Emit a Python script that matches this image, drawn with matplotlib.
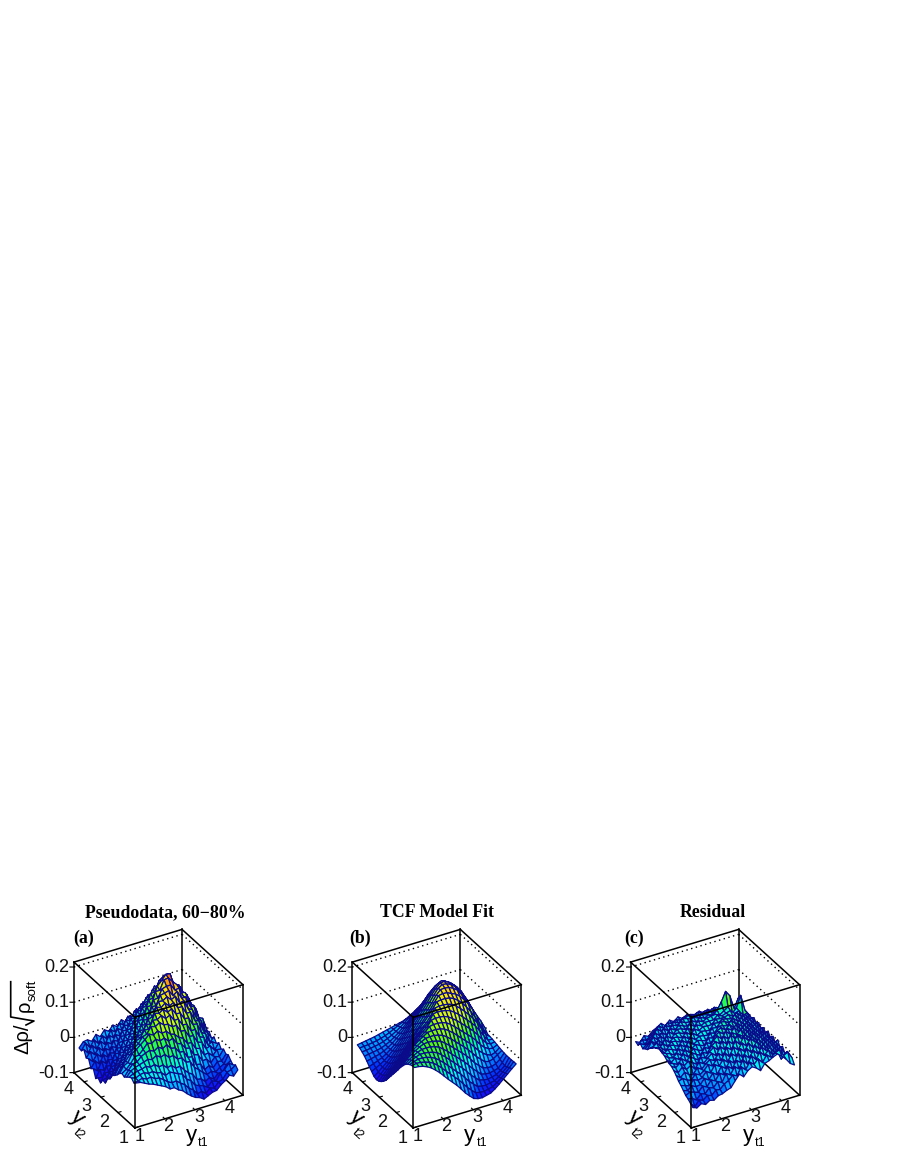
import numpy as np
import matplotlib
matplotlib.use("Agg")
import matplotlib.pyplot as plt
from matplotlib.colors import LinearSegmentedColormap, Normalize
from matplotlib.lines import Line2D

# surface heights, in units of 0.001, one row per y_t2 bin
pseudodata = [
    [20, 18, 12, 6, 2, -4, -10, -16, -26, -26, -36, -42, -54, -64, -72, -76, -84, -78, -72, -70, -58, -50, -38, -44, -30],
    [14, 16, 20, 14, 16, 8, 6, -2, -12, -18, -16, -26, -34, -48, -56, -72, -68, -78, -66, -70, -56, -52, -36, -32, -22],
    [22, 18, 24, 26, 20, 22, 14, 12, 0, 6, 0, -6, -10, -28, -36, -52, -58, -62, -70, -56, -60, -40, -34, -20, -28],
    [18, 24, 28, 30, 34, 28, 32, 22, 24, 12, 16, 4, 6, -8, -20, -28, -46, -48, -60, -52, -60, -48, -50, -30, -22],
    [12, 26, 32, 36, 40, 44, 40, 48, 40, 44, 32, 34, 20, 20, 4, 2, -18, -28, -40, -50, -44, -50, -40, -34, -12],
    [6, 22, 36, 38, 50, 56, 60, 54, 62, 54, 62, 48, 46, 30, 28, 8, 6, -20, -22, -42, -34, -44, -30, -32, -16],
    [10, 18, 30, 46, 48, 60, 74, 70, 78, 70, 74, 62, 66, 48, 44, 28, 24, 2, -2, -22, -22, -36, -22, -26, -8],
    [4, 22, 28, 50, 58, 68, 78, 90, 84, 92, 82, 84, 72, 68, 56, 50, 32, 30, 10, 6, -16, -14, -26, -12, -14],
    [-6, 12, 26, 40, 56, 64, 80, 84, 102, 98, 106, 96, 94, 84, 84, 64, 62, 42, 40, 18, 14, -8, -4, -20, -2],
    [-14, 8, 14, 36, 44, 66, 70, 90, 88, 110, 108, 116, 104, 110, 92, 92, 72, 70, 48, 48, 24, 18, -8, -2, -10],
    [-20, -10, 12, 18, 42, 48, 70, 72, 96, 92, 120, 116, 124, 112, 118, 100, 100, 80, 78, 56, 54, 26, 18, -10, 2],
    [-36, -14, -8, 16, 20, 46, 50, 76, 74, 100, 104, 128, 122, 132, 120, 126, 108, 108, 86, 84, 58, 52, 22, 12, -8],
    [-42, -36, -10, -6, 20, 26, 52, 54, 82, 78, 108, 112, 134, 132, 140, 128, 134, 112, 114, 88, 82, 54, 44, 10, 4],
    [-60, -34, -32, -4, -2, 26, 28, 58, 56, 86, 84, 116, 116, 142, 144, 148, 130, 138, 116, 114, 86, 80, 46, 40, 2],
    [-58, -54, -28, -26, 4, 4, 34, 34, 64, 62, 94, 94, 126, 128, 150, 154, 154, 136, 138, 110, 104, 70, 64, 24, 16],
    [-72, -48, -48, -20, -20, 10, 10, 40, 40, 72, 72, 104, 104, 140, 140, 166, 168, 154, 142, 116, 112, 78, 68, 28, 20],
    [-64, -66, -38, -40, -10, -12, 18, 18, 46, 50, 80, 82, 114, 116, 146, 158, 172, 170, 130, 132, 102, 96, 58, 48, 6],
    [-72, -50, -56, -30, -32, -4, -6, 24, 26, 54, 58, 88, 92, 122, 124, 152, 160, 164, 144, 118, 116, 82, 76, 36, 26],
    [-50, -60, -36, -46, -20, -24, 2, 2, 30, 32, 60, 64, 92, 96, 124, 124, 144, 140, 136, 124, 98, 96, 60, 54, 14],
    [-56, -38, -50, -28, -38, -12, -18, 10, 8, 36, 38, 66, 68, 98, 98, 124, 114, 132, 116, 116, 90, 88, 58, 54, 16],
    [-34, -46, -28, -40, -20, -28, -4, -10, 16, 14, 42, 42, 68, 68, 96, 90, 114, 100, 112, 90, 94, 68, 68, 36, 34],
    [-38, -24, -36, -20, -32, -12, -20, 2, -4, 22, 18, 44, 40, 68, 62, 88, 78, 98, 80, 90, 72, 72, 46, 48, 18],
    [-20, -34, -16, -30, -12, -24, -2, -12, 10, 2, 28, 20, 46, 40, 64, 54, 74, 62, 76, 58, 66, 48, 52, 30, 32],
    [-30, -12, -28, -10, -24, -6, -18, 4, -6, 16, 6, 28, 20, 42, 30, 46, 36, 52, 38, 52, 36, 46, 30, 38, 14],
    [-28, -14, -12, -20, -4, -14, 2, -6, 8, 0, 16, 6, 20, 12, 26, 16, 28, 18, 26, 16, 24, 14, 22, 12, 20],
]
model_fit = [
    [64, 63, 60, 55, 48, 38, 27, 14, 1, -11, -23, -37, -52, -64, -75, -79, -80, -77, -74, -66, -56, -45, -34, -23, -13],
    [63, 66, 65, 62, 58, 52, 42, 31, 19, 7, -5, -17, -31, -45, -57, -68, -71, -72, -69, -66, -58, -49, -38, -26, -13],
    [60, 65, 68, 68, 66, 62, 56, 47, 37, 25, 13, 1, -10, -24, -38, -49, -60, -63, -64, -61, -59, -51, -41, -30, -14],
    [55, 62, 68, 72, 72, 70, 67, 62, 53, 43, 31, 20, 8, -3, -16, -30, -41, -52, -55, -57, -54, -51, -43, -33, -14],
    [48, 58, 66, 72, 76, 77, 76, 73, 68, 59, 50, 38, 27, 16, 5, -8, -22, -33, -45, -48, -49, -46, -43, -30, -14],
    [38, 52, 62, 70, 77, 82, 83, 82, 79, 75, 66, 57, 46, 35, 24, 13, 0, -15, -26, -37, -40, -41, -36, -27, -13],
    [27, 42, 54, 66, 74, 82, 88, 89, 89, 86, 82, 74, 65, 54, 43, 32, 20, 7, -7, -18, -29, -32, -28, -20, -12],
    [14, 30, 44, 58, 70, 80, 87, 95, 96, 96, 94, 90, 82, 73, 62, 50, 39, 28, 15, 1, -10, -19, -24, -20, -10],
    [2, 18, 32, 47, 60, 72, 82, 90, 102, 104, 104, 102, 98, 90, 80, 69, 58, 47, 36, 23, 8, -4, -12, -14, -8],
    [-10, 6, 20, 35, 50, 63, 75, 85, 94, 110, 112, 112, 110, 105, 97, 88, 77, 66, 55, 43, 29, 13, -2, -8, -6],
    [-22, -6, 8, 23, 38, 52, 65, 77, 88, 98, 118, 120, 119, 117, 113, 105, 96, 85, 73, 61, 48, 31, 12, -4, -4],
    [-34, -18, -4, 11, 26, 41, 55, 68, 80, 91, 106, 125, 127, 127, 125, 121, 113, 103, 91, 78, 63, 47, 26, 6, -3],
    [-46, -30, -15, 0, 15, 30, 45, 60, 73, 86, 100, 116, 133, 135, 135, 133, 128, 119, 108, 93, 77, 58, 37, 15, -2],
    [-55, -40, -25, -10, 5, 20, 35, 50, 64, 78, 92, 108, 125, 141, 143, 142, 136, 131, 121, 108, 92, 73, 52, 32, 8],
    [-62, -48, -34, -19, -4, 11, 26, 41, 56, 71, 86, 102, 118, 136, 148, 149, 147, 141, 132, 116, 97, 77, 55, 30, 10],
    [-67, -54, -41, -27, -12, 3, 18, 33, 48, 64, 80, 96, 113, 130, 145, 153, 151, 146, 136, 122, 105, 85, 60, 35, 12],
    [-69, -57, -45, -33, -19, -5, 10, 25, 40, 56, 72, 89, 106, 124, 138, 150, 152, 146, 136, 125, 110, 88, 65, 39, 13],
    [-66, -57, -47, -37, -25, -12, 2, 17, 32, 48, 64, 81, 98, 115, 130, 142, 148, 142, 135, 124, 108, 90, 67, 43, 17],
    [-58, -52, -45, -38, -28, -17, -5, 9, 23, 38, 54, 70, 86, 102, 118, 130, 136, 138, 130, 118, 104, 87, 68, 45, 21],
    [-50, -46, -41, -36, -29, -20, -10, 2, 15, 29, 44, 59, 74, 90, 105, 116, 122, 124, 122, 110, 97, 82, 65, 46, 24],
    [-41, -38, -35, -32, -27, -20, -12, -2, 9, 21, 34, 48, 61, 75, 88, 98, 106, 108, 104, 98, 88, 75, 60, 44, 26],
    [-33, -31, -29, -27, -24, -19, -13, -5, 4, 14, 25, 37, 48, 60, 71, 80, 87, 90, 88, 84, 78, 66, 54, 40, 26],
    [-27, -26, -24, -22, -20, -16, -11, -5, 2, 10, 19, 29, 38, 48, 56, 62, 67, 69, 68, 65, 60, 54, 46, 37, 26],
    [-22, -21, -20, -18, -16, -13, -9, -4, 2, 8, 14, 21, 28, 35, 40, 43, 44, 45, 46, 46, 44, 40, 37, 32, 23],
    [-19, -17, -15, -13, -11, -8, -5, -2, 1, 4, 7, 10, 13, 16, 18, 20, 21, 21, 21, 20, 20, 19, 19, 18, 18],
]
residual = [
    [-50, -54, -46, -52, -44, -47, -38, -36, -30, -26, -10, 5, -6, 8, 15, 8, -3, 14, 18, 25, 30, 20, 8, -8, -16],
    [-44, -58, -42, -46, -36, -40, -28, -30, -18, -12, 0, -6, 16, 4, 22, 12, 24, 10, 28, 18, 26, 32, 12, 18, -2],
    [-38, -40, -48, -34, -38, -24, -28, -14, -20, 2, -6, 14, 4, 26, 10, 30, 16, 34, 20, 32, 14, 24, -4, 10, -14],
    [-34, -28, -32, -36, -22, -28, -12, -18, 0, -8, 12, 2, 22, 12, 30, 18, 36, 22, 38, 24, 30, 10, 20, -6, 4],
    [-26, -30, -20, -26, -24, -10, -18, -2, -10, 10, 0, 18, 8, 32, 16, 38, 24, 40, 26, 36, 18, 28, 6, 14, -8],
    [-18, -22, -26, -12, -18, -14, 0, -8, 12, 4, 20, 8, 28, 18, 36, 24, 44, 28, 42, 22, 34, 12, 22, 0, 6],
    [-12, -8, -16, -20, -6, -12, -4, 10, 2, 18, 10, 28, 14, 38, 26, 42, 30, 48, 34, 38, 20, 30, 10, 16, -4],
    [-2, -12, 0, -10, -14, 2, -6, 6, 14, 8, 24, 14, 34, 24, 46, 32, 50, 36, 44, 28, 36, 16, 24, 4, 12],
    [6, -4, 8, -2, 6, -8, 8, 0, 12, 22, 12, 34, 22, 42, 30, 52, 38, 46, 32, 42, 24, 30, 10, 18, -2],
    [12, 4, 14, 2, 12, 4, -4, 12, 6, 20, 30, 18, 40, 28, 50, 36, 44, 34, 46, 26, 36, 18, 26, 6, 10],
    [14, 10, 4, 16, 6, 14, 6, -2, 16, 10, 26, 36, 26, 44, 32, 46, 38, 48, 30, 40, 22, 32, 12, 20, -2],
    [18, 6, 16, 8, 20, 8, 16, 8, 2, 20, 14, 32, 42, 30, 48, 36, 52, 36, 44, 28, 36, 16, 24, 6, 12],
    [24, 14, 10, 20, 10, 22, 10, 18, 10, 6, 24, 18, 36, 44, 34, 46, 38, 50, 32, 42, 24, 30, 12, 18, 0],
    [26, 20, 16, 8, 22, 12, 24, 12, 20, 14, 10, 28, 24, 40, 46, 36, 48, 34, 44, 30, 38, 20, 26, 8, 10],
    [30, 14, 22, 18, 12, 24, 14, 26, 14, 22, 18, 14, 32, 28, 44, 42, 38, 50, 36, 42, 26, 32, 14, 20, 2],
    [26, 24, 12, 24, 20, 14, 26, 16, 28, 18, 24, 22, 20, 36, 34, 46, 44, 36, 46, 34, 40, 24, 28, 10, 12],
    [22, 16, 26, 14, 24, 22, 16, 28, 18, 30, 20, 28, 26, 24, 40, 38, 44, 42, 38, 46, 30, 36, 18, 22, 4],
    [14, 26, 12, 28, 16, 26, 24, 18, 30, 20, 32, 24, 32, 30, 30, 42, 40, 40, 44, 36, 42, 28, 30, 12, 14],
    [8, 10, 24, 10, 28, 18, 28, 26, 20, 32, 22, 34, 28, 34, 34, 34, 44, 38, 42, 46, 34, 38, 22, 24, 6],
    [-2, 18, 6, 26, 12, 30, 20, 30, 28, 22, 34, 24, 36, 30, 36, 38, 40, 34, 42, 50, 28, 40, 72, 26, 10],
    [-6, 6, 20, 8, 26, 14, 30, 22, 32, 26, 22, 34, 26, 36, 30, 36, 32, 42, 62, 88, 72, 32, 58, 22, 0],
    [-12, -2, 8, 22, 10, 28, 16, 30, 24, 32, 26, 24, 34, 28, 34, 30, 36, 28, 38, 52, 60, 24, 30, 8, 12],
    [-4, -10, 2, 10, 24, 12, 26, 18, 30, 22, 30, 28, 22, 32, 26, 32, 24, 34, 26, 30, 24, 30, 14, 18, -2],
    [-14, -2, -8, 4, 12, 22, 12, 24, 18, 26, 20, 26, 26, 20, 28, 22, 26, 20, 28, 22, 24, 16, 22, 4, 8],
    [-10, -16, 0, -6, 6, 12, 20, 10, 22, 14, 24, 16, 22, 20, 16, 22, 14, 20, 12, 18, 10, 16, 4, 8, -6],
]

titles = ["Pseudodata, 60\u221280%", "TCF Model Fit", "Residual"]
title_x = [165, 436.5, 713]
panel_tags = ["(a)", "(b)", "(c)"]
tag_x = [83.3, 360, 634]
z_ticks = [-0.1, 0, 0.1, 0.2]
z_tick_labels = ["-0.1", "0", "0.1", "0.2"]
yt_ticks = [1, 2, 3, 4]

XLO, XHI = 1.0, 4.6
ZLO, ZHI = -0.1, 0.214
W, H = 900, 1164
STEP = 278.3
SIZE = 211
NAVY = "#0a0a8a"
DOTS = (0, (1, 2.5))
LIGHT = 1.0

cmap = LinearSegmentedColormap.from_list("root_pal", [
    (0.00, (0.30, 0.00, 0.75)), (0.065, (0.12, 0.00, 0.95)), (0.16, (0.00, 0.20, 1.00)),
    (0.26, (0.00, 0.60, 1.00)), (0.355, (0.00, 0.85, 1.00)), (0.42, (0.00, 1.00, 0.90)),
    (0.52, (0.00, 1.00, 0.50)), (0.61, (0.30, 1.00, 0.00)), (0.71, (0.80, 1.00, 0.00)),
    (0.81, (1.00, 0.90, 0.00)), (0.90, (1.00, 0.55, 0.00)), (1.00, (1.00, 0.10, 0.00)),
])
norm = Normalize(-0.1, 0.21)

plt.rcParams["font.family"] = ["Liberation Sans", "DejaVu Sans"]

fig = plt.figure(figsize=(W / 100, H / 100), dpi=100)


def ftext(px, py, s, **kw):
    # place text by pixel position in the picture
    fig.text(px / W, 1 - py / H, s, **kw)


def cell_colors(Z):
    # faces turned to the right come out lighter, as in the reference
    mid = (Z[:-1, :-1] + Z[1:, :-1] + Z[:-1, 1:] + Z[1:, 1:]) / 4
    d_j = (Z[1:, :-1] + Z[1:, 1:] - Z[:-1, :-1] - Z[:-1, 1:]) / 2
    d_i = (Z[:-1, 1:] + Z[1:, 1:] - Z[:-1, :-1] - Z[1:, :-1]) / 2
    return cmap(norm(mid + np.clip(LIGHT * (d_j - d_i), -0.035, 0.035)))


n = len(model_fit)
grid = XLO + (XHI - XLO) * (0.03 + 0.94 * np.arange(n) / (n - 1))
X, Y = np.meshgrid(grid, grid)

for k, rows in enumerate([pseudodata, model_fit, residual]):
    dx = STEP * k
    cx, cy = 155.6 + dx, 1031.5
    ax = fig.add_axes([(cx - SIZE / 2) / W, 1 - (cy + SIZE / 2) / H, SIZE / W, SIZE / H],
                      projection="3d", proj_type="ortho", computed_zorder=False)
    ax.view_init(elev=31.6, azim=-120)
    ax.set_box_aspect((125, 122, 130))
    ax.set_xlim(XLO, XHI, view_margin=0)
    ax.set_ylim(XLO, XHI, view_margin=0)
    ax.set_zlim(ZLO, ZHI, view_margin=0)
    ax.set_axis_off()

    # back of the box, behind the surface
    for xs, ys, zs in [
        ((XLO, XHI), (XHI, XHI), (ZHI, ZHI)), ((XHI, XHI), (XHI, XLO), (ZHI, ZHI)),
        ((XHI, XHI), (XHI, XHI), (ZLO, ZHI)), ((XLO, XHI), (XHI, XHI), (ZLO, ZLO)),
        ((XHI, XHI), (XHI, XLO), (ZLO, ZLO)), ((XLO, XLO), (XHI, XHI), (ZLO, ZHI)),
        ((XHI, XHI), (XLO, XLO), (ZLO, ZHI)), ((XLO, XHI), (XLO, XLO), (ZLO, ZLO)),
        ((XLO, XLO), (XLO, XHI), (ZLO, ZLO)),
    ]:
        ax.plot(xs, ys, zs, color="black", lw=1.1, zorder=1)
    for z in z_ticks[1:]:
        ax.plot((XLO, XHI), (XHI, XHI), (z, z), color="black", lw=1.0, ls=DOTS, zorder=1)
        ax.plot((XHI, XHI), (XHI, XLO), (z, z), color="black", lw=1.0, ls=DOTS, zorder=1)
    for z in z_ticks:
        ax.plot((XLO - 0.1, XLO), (XHI + 0.06, XHI), (z, z), color="black", lw=0.8, zorder=1)
    for v in yt_ticks:
        ax.plot((v, v), (XLO, XLO + 0.1), (ZLO, ZLO), color="black", lw=0.8, zorder=1)
        ax.plot((XLO, XLO + 0.1), (v, v), (ZLO, ZLO), color="black", lw=0.8, zorder=1)

    Z = np.array(rows) / 1000
    ax.plot_surface(X, Y, Z, rstride=1, cstride=1, facecolors=cell_colors(Z), shade=False,
                    edgecolor=NAVY, linewidth=0.9, antialiased=True, zorder=2)

    # front edges of the box, over the surface
    for xs, ys, zs in [
        ((XLO, XLO), (XLO, XLO), (ZLO, ZHI)), ((XLO, XHI), (XLO, XLO), (ZHI, ZHI)),
        ((XLO, XLO), (XLO, XHI), (ZHI, ZHI)),
    ]:
        ax.plot(xs, ys, zs, color="black", lw=1.1, zorder=3)

    ftext(title_x[k], 912.3, titles[k], family="Liberation Serif", weight="bold", size=12.8,
          ha="center", va="center")
    ftext(tag_x[k], 938.3, panel_tags[k], family="Liberation Serif", weight="bold",
          size=12.8, ha="center", va="center")
    for lab, py in zip(z_tick_labels, [1073.3, 1037.7, 1002.3, 967.7]):
        ftext(69 + dx, py, lab, size=13, ha="right", va="center", color="#111111")
    for lab, px, py in zip("4321", [69, 86.7, 104.3, 124], [1090, 1106.7, 1122.7, 1138.3]):
        ftext(px + dx, py, lab, size=13, ha="center", va="center", color="#111111")
    for lab, px, py in zip("1234", [139.3, 168.3, 199, 229.3], [1136.7, 1126.7, 1117.7, 1108.3]):
        ftext(px + dx, py, lab, size=13, ha="center", va="center", color="#111111")
    ftext(77.5 + dx, 1117.5, "y", size=16, rotation=-42, ha="center", va="center")
    ftext(79 + dx, 1134, "t2", size=9, rotation=-42, ha="center", va="center")
    ftext(191.5 + dx, 1135, "y", size=16, ha="center", va="center")
    ftext(203.5 + dx, 1142.5, "t1", size=9, ha="center", va="center")

# z title, with the radical drawn as a line
ftext(23, 1039, "\u0394\u03c1/", size=14.5, rotation=90, ha="center", va="center")
ftext(24, 1006, "\u03c1", size=14.5, rotation=90, ha="center", va="center")
ftext(33, 990, "soft", size=9.5, rotation=90, ha="center", va="center")
rad_x = [10.7, 10.7, 34, 26]
rad_y = [981.7, 1017, 1021, 1025]
fig.add_artist(Line2D([v / W for v in rad_x], [1 - v / H for v in rad_y],
                      transform=fig.transFigure, color="black", lw=1.2))

fig.savefig("out.png", dpi=100)
